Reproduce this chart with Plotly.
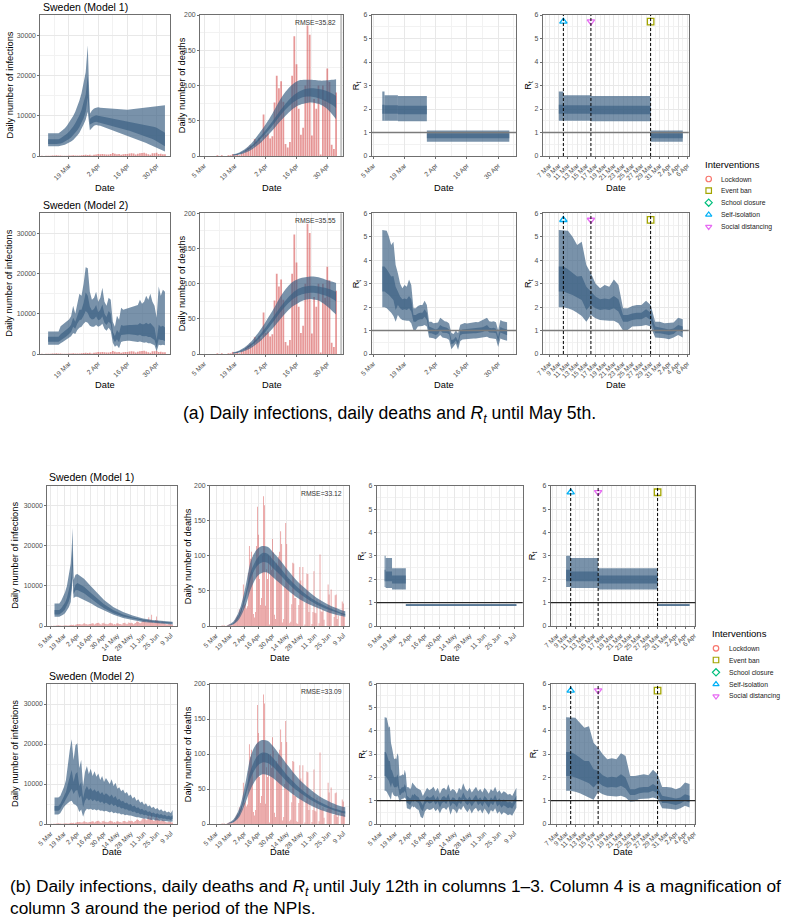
import pandas as pd
import plotly.graph_objects as go

W, H = 794, 917

# ---------------- tick labels ----------------
long_tick_dates = ["2020-03-05", "2020-03-19", "2020-04-02", "2020-04-16", "2020-04-30",
                   "2020-05-14", "2020-05-28", "2020-06-11", "2020-06-25", "2020-07-09"]
long_tick_labels = ["5 Mar", "19 Mar", "2 Apr", "16 Apr", "30 Apr",
                    "14 May", "28 May", "11 Jun", "25 Jun", "9 Jul"]
zoom_tick_dates = ["2020-03-07", "2020-03-09", "2020-03-11", "2020-03-13", "2020-03-15", "2020-03-17",
                   "2020-03-19", "2020-03-21", "2020-03-23", "2020-03-25", "2020-03-27", "2020-03-29",
                   "2020-03-31", "2020-04-02", "2020-04-04", "2020-04-06"]
zoom_tick_labels = ["7 Mar", "9 Mar", "11 Mar", "13 Mar", "15 Mar", "17 Mar", "19 Mar", "21 Mar",
                    "23 Mar", "25 Mar", "27 Mar", "29 Mar", "31 Mar", "2 Apr", "4 Apr", "6 Apr"]

# ---------------- interventions ----------------
npi_names = ["Lockdown", "Event ban", "School closure", "Self-isolation", "Social distancing"]
npi_colors = ["#F8766D", "#A3A500", "#00BF7D", "#00B0F6", "#E76BF3"]
npi_symbols = ["circle-open", "square-open", "diamond-open", "triangle-up-open", "triangle-down-open"]
npi_event_names = ["Self-isolation", "Social distancing", "Event ban"]
npi_event_dates = ["2020-03-10", "2020-03-16", "2020-03-29"]

# ---------------- observed data ----------------
cases_start = "2020-03-01"
cases = [2, 1, 1, 14, 20, 36, 31, 36, 46, 74,
         130, 155, 160, 125, 110, 79, 85, 82, 120, 125,
         160, 145, 115, 110, 185, 240, 305, 235, 285, 135, 330,
         390, 485, 455, 515, 455, 390, 375, 485, 725, 545,
         465, 470, 330, 465, 495, 480, 610, 675, 605, 390,
         545, 680, 750, 810, 610, 465, 285, 695, 680, 790,
         470, 560, 460, 410, 540, 740, 790, 680, 640, 390,
         510, 380, 650, 710, 620, 520, 480, 360, 400, 740,
         720, 780, 590, 450, 540, 870, 740, 700, 840, 670, 420,
         600, 730, 1050, 1100, 1000, 780, 680, 900, 1200, 1450,
         1300, 1250, 1100, 950, 1600, 2200, 1300, 1500, 2800, 1000,
         800, 900, 1500, 2400, 1400, 1200, 1000, 700, 800, 1200,
         900, 800, 600, 500, 400, 450, 600, 550, 500, 400, 350]

deaths_start = "2020-03-06"
deaths = [0, 0, 0, 0, 0, 1, 0, 1, 0, 0, 1, 1, 3, 1, 3, 1, 4, 5, 9, 12, 15, 12, 24, 20, 26, 22,
          59, 30, 32, 25, 28, 76, 114, 96, 106, 77, 17, 12, 20, 114, 170, 130, 67, 30, 40, 100,
          185, 172, 29, 81, 67, 100, 2, 100, 80, 124,
          105, 16, 10, 90,
          85, 99, 106, 135, 117, 5, 10,
          57, 147, 117, 67, 67, 4, 6,
          31, 90, 89, 40, 40, 4, 3,
          30, 84, 65, 45, 84, 0, 2,
          33, 75, 74, 20, 42, 0, 3,
          20, 78, 19, 18, 38, 0, 4,
          102, 21, 20, 24, 9, 0, 0,
          21, 59, 45, 23, 52, 0, 0,
          13, 44, 45, 10, 15, 0, 0,
          18, 35, 32, 13, 0]

period_a_end = "2020-05-04"
zoom_end = "2020-04-05"

# ---------------- (a) infections, model 1 (daily from 9 Mar) ----------------
inf1a_start = "2020-03-09"
inf1a_hi95 = [5650, 5650, 5650, 5650, 5650, 5650, 6000, 6400, 6900, 7500, 8200, 9000, 9900, 11000, 12300,
              13800, 15600, 17800, 20800, 27500, 10500, 11300, 11800, 12000, 12100, 12000, 11950, 11900,
              11850, 11800, 11750, 11700, 11650, 11600, 11550, 11500, 11500, 11500, 11500, 11550, 11600,
              11650, 11700, 11750, 11800, 11850, 11900, 11950, 12000, 12050, 12100, 12200, 12300, 12400,
              12450, 12550, 12600]
inf1a_lo95 = [2400, 2400, 2400, 2400, 2400, 2400, 2500, 2650, 2800, 3000, 3300, 3600, 4000, 4500, 5100,
              5800, 6700, 7800, 9000, 11000, 6400, 7000, 7500, 7700, 7600, 7500, 7400, 7200, 7000, 6800,
              6600, 6400, 6200, 6000, 5800, 5600, 5400, 5200, 5000, 4800, 4600, 4400, 4200, 4000, 3800,
              3600, 3400, 3200, 3000, 2800, 2600, 2400, 2200, 1900, 1600, 1350, 1100]
inf1a_hi50 = [4150, 4150, 4150, 4150, 4150, 4150, 4400, 4700, 5100, 5500, 6000, 6600, 7300, 8100, 9000,
              10100, 11400, 13000, 15200, 20000, 9200, 9700, 10000, 10100, 10000, 9900, 9800, 9700, 9600,
              9500, 9400, 9300, 9200, 9100, 9000, 8900, 8800, 8700, 8600, 8500, 8400, 8300, 8200, 8100,
              8000, 7900, 7800, 7700, 7600, 7500, 7400, 7200, 7000, 6700, 6400, 6100, 5800]
inf1a_lo50 = [2950, 2950, 2950, 2950, 2950, 2950, 3100, 3300, 3550, 3850, 4200, 4600, 5100, 5700, 6400,
              7200, 8200, 9400, 11000, 14500, 7800, 8200, 8400, 8500, 8400, 8300, 8200, 8050, 7900, 7750,
              7600, 7450, 7300, 7150, 7000, 6850, 6700, 6550, 6400, 6250, 6100, 5950, 5800, 5600, 5400,
              5200, 5000, 4800, 4600, 4400, 4200, 4000, 3700, 3400, 3100, 2800, 2450]

# ---------------- (a) infections, model 2 (daily from 9 Mar) ----------------
inf2a_start = "2020-03-09"
inf2a_hi95 = [5600, 5600, 5600, 5600, 5600, 5600, 6900, 7300, 7600, 8000, 8600, 9400, 12000, 10000, 12800,
              15000, 14500, 17500, 21600, 21300, 15500, 13500, 14000, 15500, 13000, 14000, 16500, 13000,
              12000, 14000, 13500, 8000, 6800, 9500, 8500, 11500, 11000, 11200, 11300, 11500, 11600,
              11800, 12000, 12200, 13500, 12500, 13000, 14500, 13500, 15000, 13000, 12000, 9000, 16800,
              14500, 16000, 15500]
inf2a_lo95 = [2300, 2300, 2300, 2300, 2300, 2300, 2700, 3000, 3300, 3700, 4000, 4400, 5200, 5000, 6000,
              6500, 6800, 7500, 8000, 7800, 7000, 6800, 6800, 7200, 6800, 7000, 7500, 6300, 5800, 6500,
              5800, 2800, 1800, 2200, 1400, 3000, 3200, 3300, 3300, 3300, 3300, 3200, 3100, 3000, 3100,
              2900, 2800, 2900, 2700, 2700, 2400, 2200, 600, 2300, 2200, 2300, 2200]
inf2a_hi50 = [4300, 4300, 4300, 4300, 4300, 4300, 4900, 5300, 5600, 6100, 6600, 7300, 9000, 8000, 9800,
              11000, 11000, 12700, 15300, 14500, 11800, 10800, 11200, 12200, 10400, 11000, 12300, 10000,
              9200, 10700, 10000, 5500, 4500, 6000, 5200, 7200, 7000, 7100, 7100, 7200, 7200, 7300, 7300,
              7300, 7700, 7400, 7400, 7800, 7400, 7700, 7000, 6500, 3500, 7300, 6800, 7000, 6600]
inf2a_lo50 = [3050, 3050, 3050, 3050, 3050, 3050, 3500, 3800, 4100, 4500, 4900, 5500, 6800, 6300, 7600,
              8400, 8600, 9500, 10700, 10200, 9000, 8600, 8700, 9300, 8400, 8600, 9300, 7800, 7200, 8000,
              7500, 4000, 2900, 3700, 2900, 4700, 4800, 4900, 4900, 4900, 4800, 4800, 4700, 4600, 4800,
              4500, 4400, 4500, 4200, 4200, 3800, 3500, 1600, 3700, 3500, 3500, 3200]

# ---------------- (b) infections, model 1 (key dates) ----------------
inf1b_dates = ["2020-03-09", "2020-03-14", "2020-03-16", "2020-03-18", "2020-03-20", "2020-03-22",
               "2020-03-24", "2020-03-26", "2020-03-27", "2020-03-28", "2020-03-29", "2020-03-31",
               "2020-04-02", "2020-04-09", "2020-04-16", "2020-04-23", "2020-04-30", "2020-05-10",
               "2020-05-20", "2020-05-30", "2020-06-10", "2020-06-20", "2020-06-30", "2020-07-11"]
inf1b_hi95 = [5600, 5600, 6300, 7200, 8400, 10000, 12300, 15500, 19000, 24500, 11500, 12800, 13000,
              11800, 10000, 8200, 6500, 4700, 3500, 2600, 1900, 1500, 1250, 1050]
inf1b_lo95 = [2300, 2300, 2500, 2800, 3200, 3800, 4700, 6000, 7500, 12000, 7000, 7300, 7300, 6600,
              5700, 4700, 3800, 2800, 2000, 1500, 1000, 750, 550, 400]
inf1b_hi50 = [4000, 4000, 4400, 5000, 5800, 7000, 8700, 11000, 13500, 20000, 9000, 10300, 10700, 9800,
              8300, 6800, 5400, 3900, 2900, 2200, 1600, 1250, 1000, 850]
inf1b_lo50 = [2900, 2900, 3200, 3600, 4200, 5000, 6200, 7900, 9500, 15000, 8000, 8900, 9000, 8200,
              6900, 5600, 4400, 3200, 2400, 1800, 1300, 1000, 800, 650]

# ---------------- (b) infections, model 2 (every 2 days from 9 Mar) ----------------
inf2b_start = "2020-03-09"
inf2b_hi95 = [6600, 6600, 6600, 7000, 8000, 9300, 11000, 15000, 18500, 21200,
              16000, 19700, 20200, 14000, 16000, 9500, 13000, 14500, 12500, 13800,
              12000, 13200, 11800, 12600, 11000, 12000, 10500, 11500, 10800, 10000,
              11200, 9500, 10300, 8800, 9200, 8200, 8600, 7600, 8000, 7000,
              7400, 6400, 6800, 5800, 6200, 5300, 5600, 4800, 5200, 4400,
              4700, 4000, 4300, 3700, 4000, 3400, 3700, 3100, 3400, 2900,
              3100, 2700, 3500]
inf2b_lo95 = [2400, 2400, 2400, 2700, 3500, 4300, 4800, 5300, 5600, 5800,
              5000, 4800, 4300, 3000, 3600, 1800, 3200, 3800, 3600, 3800,
              3500, 3700, 3400, 3600, 3300, 3400, 3100, 3300, 3100, 2900,
              3100, 2700, 2900, 2600, 2700, 2400, 2500, 2200, 2300, 2100,
              2100, 1900, 1900, 1700, 1700, 1500, 1500, 1300, 1400, 1200,
              1200, 1000, 1100, 900, 950, 800, 850, 700, 750, 600,
              650, 550, 600]
inf2b_hi50 = [4500, 4500, 4500, 5000, 6000, 7000, 8000, 10000, 12000, 13500,
              10500, 12500, 13000, 9500, 10500, 6500, 8500, 9500, 8500, 9000,
              8200, 8700, 8000, 8400, 7500, 8000, 7200, 7700, 7300, 6800,
              7400, 6500, 7000, 6000, 6300, 5600, 5800, 5200, 5400, 4800,
              5000, 4400, 4600, 4000, 4200, 3600, 3800, 3300, 3500, 3000,
              3200, 2700, 2900, 2500, 2700, 2300, 2500, 2100, 2300, 1900,
              2100, 1800, 2200]
inf2b_lo50 = [3300, 3300, 3300, 3700, 4600, 5400, 6000, 7000, 8000, 8800,
              7500, 8300, 8500, 6500, 7200, 4200, 5800, 6500, 5900, 6300,
              5700, 6100, 5600, 5900, 5300, 5600, 5000, 5400, 5100, 4700,
              5100, 4500, 4800, 4200, 4400, 3900, 4000, 3600, 3700, 3300,
              3400, 3000, 3100, 2700, 2800, 2400, 2500, 2200, 2300, 2000,
              2100, 1800, 1900, 1600, 1700, 1400, 1500, 1300, 1400, 1100,
              1200, 1000, 1300]

# ---------------- deaths model fits ----------------
dfit_a_dates = ["2020-03-18", "2020-03-21", "2020-03-24", "2020-03-27", "2020-03-30", "2020-04-02",
                "2020-04-05", "2020-04-08", "2020-04-11", "2020-04-14", "2020-04-17", "2020-04-20",
                "2020-04-23", "2020-04-26", "2020-04-29", "2020-05-02", "2020-05-04"]
dfit1a_lo95 = [0.5, 2, 5, 10, 17, 26, 36, 47, 57, 66, 72, 75, 76, 74, 69, 60, 52]
dfit1a_lo50 = [1, 3, 7, 13, 22, 32, 43, 55, 66, 75, 81, 84, 84, 82, 78, 73, 68]
dfit1a_hi50 = [1.5, 4, 9, 16, 26, 37, 49, 62, 74, 84, 91, 95, 96, 95, 93, 89, 85]
dfit1a_hi95 = [2, 5, 11, 20, 32, 45, 60, 77, 91, 101, 107, 108, 108, 107, 107, 108, 109]
dfit2a_lo95 = [0.5, 2, 5, 10, 17, 26, 36, 47, 58, 67, 73, 77, 78, 76, 70, 62, 56]
dfit2a_lo50 = [1, 3, 7, 13, 22, 32, 44, 57, 68, 77, 83, 86, 87, 86, 83, 79, 75]
dfit2a_hi50 = [1.5, 4, 9, 16, 26, 38, 51, 64, 76, 86, 93, 96, 97, 96, 94, 91, 88]
dfit2a_hi95 = [2, 5, 11, 20, 32, 46, 61, 78, 92, 102, 107, 109, 110, 109, 106, 103, 101]

dfit_b_dates = ["2020-03-16", "2020-03-22", "2020-03-28", "2020-04-03", "2020-04-09", "2020-04-15",
                "2020-04-20", "2020-04-25", "2020-04-30", "2020-05-08", "2020-05-16", "2020-05-25",
                "2020-06-05", "2020-06-15", "2020-06-25", "2020-07-05", "2020-07-11"]
dfit1b_lo95 = [0, 2, 10, 28, 55, 71, 76, 76, 70, 60, 50, 40, 31, 25, 19, 15, 13]
dfit1b_lo50 = [0, 3, 14, 38, 70, 86, 91, 90, 83, 72, 60, 48, 37, 29, 23, 18, 15]
dfit1b_hi50 = [0, 4, 17, 45, 80, 97, 104, 103, 95, 82, 68, 55, 42, 33, 26, 20, 17]
dfit1b_hi95 = [0.5, 6, 22, 55, 95, 110, 114, 113, 106, 93, 78, 63, 49, 38, 30, 24, 21]
dfit2b_lo95 = [0, 2, 10, 30, 52, 66, 71, 70, 66, 56, 47, 37, 28, 21, 16, 12, 10]
dfit2b_lo50 = [0, 3, 14, 39, 68, 83, 88, 87, 82, 70, 58, 47, 36, 28, 22, 17, 15]
dfit2b_hi50 = [0, 4, 17, 46, 80, 97, 102, 101, 95, 81, 67, 54, 41, 32, 25, 20, 18]
dfit2b_hi95 = [0.5, 6, 22, 58, 100, 116, 120, 119, 112, 97, 82, 66, 51, 40, 32, 26, 24]

# ---------------- Rt model 1 (piecewise constant between NPIs) ----------------
rt1_seg_start = ["2020-03-09", "2020-03-10", "2020-03-16", "2020-03-29"]
rt1a_seg_end = ["2020-03-10", "2020-03-16", "2020-03-29", "2020-05-05"]
rt1a_lo95 = [1.50, 1.50, 1.48, 0.61]
rt1a_hi95 = [2.74, 2.59, 2.55, 1.08]
rt1a_lo50 = [1.80, 1.80, 1.78, 0.76]
rt1a_hi50 = [2.18, 2.16, 2.14, 0.97]
rt1b_seg_end = ["2020-03-10", "2020-03-16", "2020-03-29", "2020-07-11"]
rt1b_lo95 = [1.67, 1.62, 1.56, 0.85]
rt1b_hi95 = [3.00, 2.91, 2.47, 0.94]
rt1b_lo50 = [1.91, 1.91, 1.82, 0.87]
rt1b_hi50 = [2.41, 2.33, 2.16, 0.92]

# ---------------- Rt model 2 (a): daily from 9 Mar ----------------
rt2a_start = "2020-03-09"
rt2a_hi95 = [5.29, 5.28, 5.26, 5.00, 4.65, 4.79, 3.80, 3.44, 3.01, 2.80, 2.94, 2.87, 3.18, 2.94, 1.95,
             1.95, 2.05, 2.09, 2.09, 2.27, 2.09, 1.38, 1.38, 1.31, 1.31, 1.34, 1.55, 1.48,
             1.40, 1.38, 1.30, 0.90, 0.85, 1.00, 0.88, 1.25, 1.30, 1.32, 1.30, 1.32, 1.35, 1.35, 1.36,
             1.35, 1.40, 1.42, 1.48, 1.55, 1.40, 1.38, 1.40, 1.35, 1.00, 1.45, 1.40, 1.38, 1.35]
rt2a_lo95 = [1.99, 1.99, 1.95, 1.88, 1.76, 1.62, 1.38, 1.66, 1.52, 1.45, 1.45, 1.42, 1.42, 1.31, 1.00,
             1.02, 1.17, 1.17, 1.19, 1.24, 1.17, 0.70, 0.70, 0.67, 0.63, 0.70, 0.81, 0.70,
             0.68, 0.66, 0.60, 0.20, 0.30, 0.45, 0.18, 0.55, 0.62, 0.62, 0.63, 0.64, 0.65, 0.66, 0.66,
             0.66, 0.68, 0.70, 0.72, 0.74, 0.68, 0.66, 0.66, 0.64, 0.30, 0.66, 0.62, 0.58, 0.56]
rt2a_hi50 = [3.73, 3.73, 3.61, 3.44, 3.30, 3.33, 2.87, 2.66, 2.45, 2.33, 2.37, 2.33, 2.47, 2.33, 1.66,
             1.66, 1.73, 1.76, 1.76, 1.91, 1.76, 1.17, 1.14, 1.09, 1.05, 1.09, 1.24, 1.17,
             1.15, 1.12, 1.05, 0.60, 0.62, 0.74, 0.55, 1.00, 1.05, 1.06, 1.05, 1.06, 1.08, 1.08, 1.09,
             1.09, 1.12, 1.14, 1.18, 1.24, 1.12, 1.10, 1.12, 1.08, 0.72, 1.15, 1.10, 1.06, 1.04]
rt2a_lo50 = [2.66, 2.66, 2.59, 2.52, 2.42, 2.30, 1.88, 2.09, 1.95, 1.88, 1.91, 1.88, 1.95, 1.81, 1.38,
             1.38, 1.45, 1.48, 1.48, 1.59, 1.45, 0.88, 0.88, 0.85, 0.81, 0.85, 1.02, 0.91,
             0.92, 0.90, 0.84, 0.42, 0.46, 0.58, 0.38, 0.80, 0.85, 0.86, 0.86, 0.87, 0.88, 0.89, 0.89,
             0.89, 0.92, 0.94, 0.97, 1.02, 0.92, 0.90, 0.91, 0.88, 0.52, 0.92, 0.87, 0.83, 0.80]

# ---------------- Rt model 2 (b): daily 9 Mar - 5 Apr, then every 2 days ----------------
rt2b_early_start = "2020-03-09"
rt2b_early_hi95 = [4.58, 4.56, 4.55, 4.34, 4.12, 4.19, 3.48, 3.27, 2.99, 2.77, 2.82, 2.77, 3.03, 2.91,
                   2.06, 2.06, 2.09, 2.13, 2.09, 2.32, 2.13, 1.59, 1.59, 1.56, 1.49, 1.56, 1.78, 1.71]
rt2b_early_lo95 = [1.42, 1.42, 1.38, 1.32, 1.24, 1.14, 1.04, 1.38, 1.28, 1.21, 1.21, 1.18, 1.21, 1.14,
                   0.95, 0.97, 1.07, 1.07, 1.09, 1.14, 1.07, 0.67, 0.67, 0.64, 0.61, 0.67, 0.78, 0.71]
rt2b_early_hi50 = [3.09, 3.09, 2.99, 2.84, 2.70, 2.70, 2.35, 2.28, 2.09, 1.99, 2.02, 1.99, 2.13, 1.99,
                   1.49, 1.49, 1.56, 1.59, 1.59, 1.71, 1.59, 1.21, 1.18, 1.14, 1.09, 1.14, 1.28, 1.21]
rt2b_early_lo50 = [2.06, 2.06, 1.99, 1.92, 1.85, 1.75, 1.56, 1.78, 1.64, 1.56, 1.59, 1.56, 1.64, 1.52,
                   1.24, 1.24, 1.32, 1.35, 1.35, 1.42, 1.32, 0.90, 0.90, 0.85, 0.81, 0.88, 1.00, 0.92]
rt2b_late_start = "2020-04-06"
rt2b_late_hi95 = [1.65, 1.55, 1.50, 1.45, 1.20, 1.40, 1.55, 1.45, 1.50, 1.60, 1.40, 1.55, 1.30,
                  1.50, 1.55, 1.45, 1.70, 1.40, 1.50, 1.45, 1.30, 1.55, 1.45, 1.75, 1.50, 1.40, 1.55, 1.35,
                  1.50, 1.60, 1.40, 1.50, 1.35, 1.55, 1.45, 1.30, 1.50, 1.40, 1.60, 1.35, 1.45, 1.30, 1.40,
                  1.35, 1.25, 1.30, 1.20, 1.40, 1.55]
rt2b_late_lo95 = [0.75, 0.65, 0.60, 0.30, 0.25, 0.55, 0.65, 0.60, 0.62, 0.70, 0.55, 0.65, 0.45,
                  0.65, 0.70, 0.60, 0.75, 0.40, 0.65, 0.60, 0.45, 0.68, 0.60, 0.78, 0.62, 0.50, 0.66, 0.45,
                  0.62, 0.70, 0.52, 0.62, 0.45, 0.66, 0.56, 0.40, 0.60, 0.52, 0.68, 0.44, 0.55, 0.40, 0.50,
                  0.45, 0.38, 0.42, 0.35, 0.50, 0.70]
rt2b_late_hi50 = [1.30, 1.20, 1.15, 0.95, 0.80, 1.08, 1.20, 1.12, 1.15, 1.25, 1.05, 1.20, 0.95,
                  1.15, 1.20, 1.10, 1.30, 1.00, 1.15, 1.10, 0.95, 1.18, 1.10, 1.35, 1.15, 1.05, 1.18, 1.00,
                  1.15, 1.25, 1.05, 1.15, 1.00, 1.20, 1.10, 0.95, 1.15, 1.05, 1.25, 1.00, 1.10, 0.95, 1.05,
                  1.00, 0.92, 0.96, 0.88, 1.05, 1.22]
rt2b_late_lo50 = [1.05, 0.95, 0.90, 0.65, 0.55, 0.85, 0.95, 0.88, 0.90, 1.00, 0.82, 0.95, 0.70,
                  0.90, 0.95, 0.85, 1.05, 0.75, 0.90, 0.85, 0.72, 0.93, 0.85, 1.08, 0.90, 0.80, 0.92, 0.75,
                  0.90, 1.00, 0.80, 0.90, 0.75, 0.95, 0.85, 0.70, 0.90, 0.80, 1.00, 0.75, 0.85, 0.70, 0.80,
                  0.75, 0.68, 0.72, 0.65, 0.80, 0.98]

# ---------------- texts ----------------
panel_titles = ["Sweden (Model 1)", "Sweden (Model 2)"]
rmse_labels = [["RMSE=35.82", "RMSE=35.55"], ["RMSE=33.12", "RMSE=33.09"]]
caption_a = "(a) Daily infections, daily deaths and <i>R<sub>t</sub></i> until May 5th."
caption_b = ("(b) Daily infections, daily deaths and <i>R<sub>t</sub></i> until July 12th in columns 1–3. "
             "Column 4 is a magnification of<br>column 3 around the period of the NPIs.")

# ======================================================================
FONT = "Liberation Sans, Arial, Helvetica, sans-serif"
CAP_FONT = "Liberation Sans, Arial, sans-serif"
BAND = "rgba(58,94,129,0.68)"
BAR = "rgba(214,78,78,0.58)"
GRID = "#e8e8e8"
GRID_MINOR = "#f2f2f2"
BORDER = "#6f6f6f"
TICK_C = "#4d4d4d"
DAY = 86400000


def px(x):
    return x / W


def py(y):
    return 1 - y / H


def dates_from(start, n, step=1):
    return [d.strftime("%Y-%m-%d") for d in pd.date_range(start, periods=n, freq=f"{step}D")]


def upto(x, ys, end):
    idx = [i for i, d in enumerate(x) if d <= end]
    return [x[i] for i in idx], [[y[i] for i in idx] for y in ys]


fig = go.Figure()
layout = {}
annotations = []
shapes = []


def axn(n):
    return ("x", "y") if n == 1 else (f"x{n}", f"y{n}")


def band(n, x, lo, hi, smooth=False):
    xa, ya = axn(n)
    if smooth:
        fig.add_trace(go.Scatter(x=x, y=lo, mode="lines", line=dict(width=0, shape="spline", smoothing=0.9),
                                 xaxis=xa, yaxis=ya, hoverinfo="skip", showlegend=False))
        fig.add_trace(go.Scatter(x=x, y=hi, mode="lines", line=dict(width=0, shape="spline", smoothing=0.9),
                                 fill="tonexty", fillcolor=BAND, xaxis=xa, yaxis=ya, hoverinfo="skip",
                                 showlegend=False))
    else:
        fig.add_trace(go.Scatter(x=list(x) + list(x)[::-1], y=list(hi) + list(lo)[::-1], mode="lines",
                                 line=dict(width=0), fill="toself", fillcolor=BAND, xaxis=xa, yaxis=ya,
                                 hoverinfo="skip", showlegend=False))


def bars(n, x, y):
    xa, ya = axn(n)
    fig.add_trace(go.Bar(x=x, y=y, width=0.8 * DAY, marker=dict(color=BAR, line=dict(width=0)),
                         xaxis=xa, yaxis=ya, hoverinfo="skip", showlegend=False))


def ann(text, x, y, size, color="black", xanchor="center", yanchor="middle", angle=0, family=FONT,
        align="center"):
    annotations.append(dict(text=text, x=px(x), y=py(y), xref="paper", yref="paper", showarrow=False,
                            xanchor=xanchor, yanchor=yanchor, textangle=angle, align=align,
                            font=dict(size=size, color=color, family=family)))


def x_axis(n, dom, rng, zoom):
    key = "xaxis" if n == 1 else f"xaxis{n}"
    tv, tt = (zoom_tick_dates, zoom_tick_labels) if zoom else (long_tick_dates, long_tick_labels)
    minor = dict(tickmode="linear", tick0="2020-03-08" if zoom else "2020-03-12",
                 dtick=(2 if zoom else 14) * DAY, showgrid=True, gridcolor=GRID_MINOR, gridwidth=0.6, ticks="")
    layout[key] = dict(domain=[px(dom[0]), px(dom[1])], anchor=axn(n)[1], type="date", range=rng,
                       tickmode="array", tickvals=tv, ticktext=tt, tickangle=-45,
                       tickfont=dict(size=6.7, color=TICK_C, family=FONT),
                       showline=True, mirror=True, linecolor=BORDER, linewidth=1,
                       ticks="outside", ticklen=2, tickwidth=0.7, tickcolor=BORDER,
                       showgrid=True, gridcolor=GRID, gridwidth=0.9, zeroline=False,
                       automargin=False, fixedrange=True, minor=minor)


def y_axis(n, dom, rng, dtick):
    key = "yaxis" if n == 1 else f"yaxis{n}"
    minor = dict(tickmode="linear", tick0=dtick / 2, dtick=dtick, showgrid=True, gridcolor=GRID_MINOR,
                 gridwidth=0.6, ticks="")
    layout[key] = dict(domain=[py(dom[1]), py(dom[0])], anchor=axn(n)[0], range=rng,
                       tickmode="linear", tick0=0, dtick=dtick, tickformat="d",
                       tickfont=dict(size=6.9, color=TICK_C, family=FONT),
                       showline=True, mirror=True, linecolor=BORDER, linewidth=1,
                       ticks="outside", ticklen=2, tickwidth=0.7, tickcolor=BORDER,
                       showgrid=True, gridcolor=GRID, gridwidth=0.9, zeroline=False,
                       automargin=False, fixedrange=True, minor=minor)


# ---------------- section geometry (pixels) ----------------
sections = [
    dict(rows=[(15, 156), (213.3, 354)],
         cols=[(40.3, 170), (200, 343.3), (371.7, 516), (542.7, 688.7)],
         xr=[["2020-03-05 06:00", "2020-05-06 10:00"], ["2020-03-03 02:00", "2020-05-07 07:00"],
             ["2020-03-04 06:00", "2020-05-08 00:00"], ["2020-03-05 12:00", "2020-04-06 07:00"]],
         ytitle_x=[9, 181.7, 356.7, 528.3], date_y=[187.7, 385], title_y=[7.3, 205], title_x=40.7,
         rt_line=dict(color="#7b7b7b", width=1.6),
         leg=dict(tx=702.7, ty=164, ys=[179, 190.7, 202.7, 214.7, 226.7], mx=708.7, lx=719.3),
         end=period_a_end),
    dict(rows=[(485.7, 626), (684, 824)],
         cols=[(47.3, 176.7), (210, 349), (376.7, 522.7), (550.7, 695.3)],
         xr=[["2020-03-01 10:00", "2020-07-15 07:00"], ["2020-02-28 00:00", "2020-07-14 17:00"],
             ["2020-03-01 14:00", "2020-07-16 22:00"], ["2020-03-05 15:00", "2020-04-06 06:00"]],
         ytitle_x=[15, 188.3, 361.7, 533.3], date_y=[657.5, 852], title_y=[476.7, 676], title_x=47,
         rt_line=dict(color="#262626", width=1.1),
         leg=dict(tx=710, ty=633.3, ys=[648.3, 660, 672.3, 684.3, 696.3], mx=716, lx=726.7),
         end="2020-07-12"),
]

# model content per section / row
inf_x_a1 = dates_from(inf1a_start, len(inf1a_hi95))
inf_x_a2 = dates_from(inf2a_start, len(inf2a_hi95))
inf_x_b2 = dates_from(inf2b_start, len(inf2b_hi95), 2)
rt2b_x = dates_from(rt2b_early_start, len(rt2b_early_hi95)) + dates_from(rt2b_late_start, len(rt2b_late_hi95), 2)

models = [
    [  # section a
        dict(inf=(inf_x_a1, inf1a_lo95, inf1a_hi95, inf1a_lo50, inf1a_hi50, False),
             dfit=(dfit_a_dates, dfit1a_lo95, dfit1a_hi95, dfit1a_lo50, dfit1a_hi50),
             rt=("seg", rt1_seg_start, rt1a_seg_end, rt1a_lo95, rt1a_hi95, rt1a_lo50, rt1a_hi50)),
        dict(inf=(inf_x_a2, inf2a_lo95, inf2a_hi95, inf2a_lo50, inf2a_hi50, False),
             dfit=(dfit_a_dates, dfit2a_lo95, dfit2a_hi95, dfit2a_lo50, dfit2a_hi50),
             rt=("daily", dates_from(rt2a_start, len(rt2a_hi95)), rt2a_lo95, rt2a_hi95, rt2a_lo50, rt2a_hi50)),
    ],
    [  # section b
        dict(inf=(inf1b_dates, inf1b_lo95, inf1b_hi95, inf1b_lo50, inf1b_hi50, False),
             dfit=(dfit_b_dates, dfit1b_lo95, dfit1b_hi95, dfit1b_lo50, dfit1b_hi50),
             rt=("seg", rt1_seg_start, rt1b_seg_end, rt1b_lo95, rt1b_hi95, rt1b_lo50, rt1b_hi50)),
        dict(inf=(inf_x_b2, inf2b_lo95, inf2b_hi95, inf2b_lo50, inf2b_hi50, False),
             dfit=(dfit_b_dates, dfit2b_lo95, dfit2b_hi95, dfit2b_lo50, dfit2b_hi50),
             rt=("daily", rt2b_x, rt2b_early_lo95 + rt2b_late_lo95, rt2b_early_hi95 + rt2b_late_hi95,
                 rt2b_early_lo50 + rt2b_late_lo50, rt2b_early_hi50 + rt2b_late_hi50)),
    ],
]

cases_x = dates_from(cases_start, len(cases))
deaths_x = dates_from(deaths_start, len(deaths))

n = 0
for s, sec in enumerate(sections):
    for r in range(2):
        m = models[s][r]
        row = sec["rows"][r]
        for c in range(4):
            n += 1
            x_axis(n, sec["cols"][c], sec["xr"][c], zoom=(c == 3))
            if c == 0:
                y_axis(n, row, [0, 35000], 10000)
                cx, (cy,) = upto(cases_x, [cases], sec["end"])
                bars(n, cx, cy)
                xs, lo95, hi95, lo50, hi50, sm = m["inf"]
                band(n, xs, lo95, hi95, sm)
                band(n, xs, lo50, hi50, sm)
                ytitle = "Daily number of infections"
            elif c == 1:
                y_axis(n, row, [0, 200], 50)
                dx, (dy,) = upto(deaths_x, [deaths], sec["end"])
                bars(n, dx, dy)
                xs, lo95, hi95, lo50, hi50 = m["dfit"]
                band(n, xs, lo95, hi95, True)
                band(n, xs, lo50, hi50, True)
                xa, ya = axn(n)
                annotations.append(dict(text=rmse_labels[s][r], x=0.965, y=0.985, xref=f"{xa} domain",
                                        yref=f"{ya} domain", xanchor="right", yanchor="top", showarrow=False,
                                        font=dict(size=6.8, color="#333333", family=FONT)))
                if s == 0:
                    shapes.append(dict(type="line", xref=f"{xa} domain", yref=f"{ya} domain", x0=0.985, x1=0.985,
                                       y0=0, y1=1, line=dict(color="#c4c4c4", width=2), layer="above"))
                ytitle = "Daily number of deaths"
            else:
                y_axis(n, row, [0, 6], 1)
                rt = m["rt"]
                if rt[0] == "seg":
                    _, st, en, lo95, hi95, lo50, hi50 = rt
                    for lo, hi in ((lo95, hi95), (lo50, hi50)):
                        for i in range(len(st)):
                            e = min(en[i], zoom_end) if c == 3 else en[i]
                            band(n, [st[i], e], [lo[i], lo[i]], [hi[i], hi[i]])
                else:
                    _, xs, lo95, hi95, lo50, hi50 = rt
                    if c == 3:
                        xs, (lo95, hi95, lo50, hi50) = upto(xs, [lo95, hi95, lo50, hi50], zoom_end)
                    band(n, xs, lo95, hi95)
                    band(n, xs, lo50, hi50)
                xa, ya = axn(n)
                shapes.append(dict(type="line", xref=f"{xa} domain", yref=ya, x0=0, x1=1, y0=1, y1=1,
                                   line=sec["rt_line"], layer="above"))
                if c == 3:
                    for nm, d in zip(npi_event_names, npi_event_dates):
                        shapes.append(dict(type="line", xref=xa, yref=f"{ya} domain", x0=d, x1=d, y0=0, y1=1,
                                           line=dict(color="black", width=1, dash="3px,2px"), layer="above"))
                    k = [npi_names.index(nm) for nm in npi_event_names]
                    fig.add_trace(go.Scatter(
                        x=npi_event_dates, y=[5.72] * len(npi_event_dates), mode="markers",
                        marker=dict(symbol=[npi_symbols[i] for i in k], color=[npi_colors[i] for i in k],
                                    size=6.5, line=dict(width=1.3)),
                        xaxis=xa, yaxis=ya, hoverinfo="skip", showlegend=False, cliponaxis=False))
                ytitle = "R<sub>t</sub>"
            # axis titles
            cxp = (sec["cols"][c][0] + sec["cols"][c][1]) / 2
            ann("Date", cxp, sec["date_y"][r], 9.3)
            ann(ytitle, sec["ytitle_x"][c], (row[0] + row[1]) / 2, 9.3, angle=-90)
        ann(panel_titles[r], sec["title_x"], sec["title_y"][r], 10.5, xanchor="left")

    # legend
    lg = sec["leg"]
    ann("Interventions", lg["tx"], lg["ty"], 9.5, xanchor="left")
    for i, nm in enumerate(npi_names):
        ann(nm, lg["lx"], lg["ys"][i], 6.8, color="#222222", xanchor="left")
    fig.add_trace(go.Scatter(x=[lg["mx"]] * len(npi_names), y=lg["ys"], mode="markers",
                             marker=dict(symbol=npi_symbols, color=npi_colors, size=5.5, line=dict(width=1.2)),
                             xaxis="x17", yaxis="y17", hoverinfo="skip", showlegend=False))

layout["xaxis17"] = dict(domain=[0, 1], range=[0, W], visible=False, anchor="y17", fixedrange=True)
layout["yaxis17"] = dict(domain=[0, 1], range=[H, 0], visible=False, anchor="x17", fixedrange=True)

# captions
ann(caption_a, 389, 415, 17.6, family=CAP_FONT)
ann(caption_b, 8, 897, 17.3, xanchor="left", family=CAP_FONT, align="left")

fig.update_layout(width=W, height=H, margin=dict(l=0, r=0, t=0, b=0), template="none",
                  paper_bgcolor="white", plot_bgcolor="rgba(0,0,0,0)", showlegend=False,
                  hovermode=False, barmode="overlay", font=dict(family=FONT),
                  annotations=annotations, shapes=shapes, **layout)
fig.write_html("out.html", config={"displayModeBar": False},
               post_script="document.body.style.margin='0px';document.body.style.overflow='hidden';")
